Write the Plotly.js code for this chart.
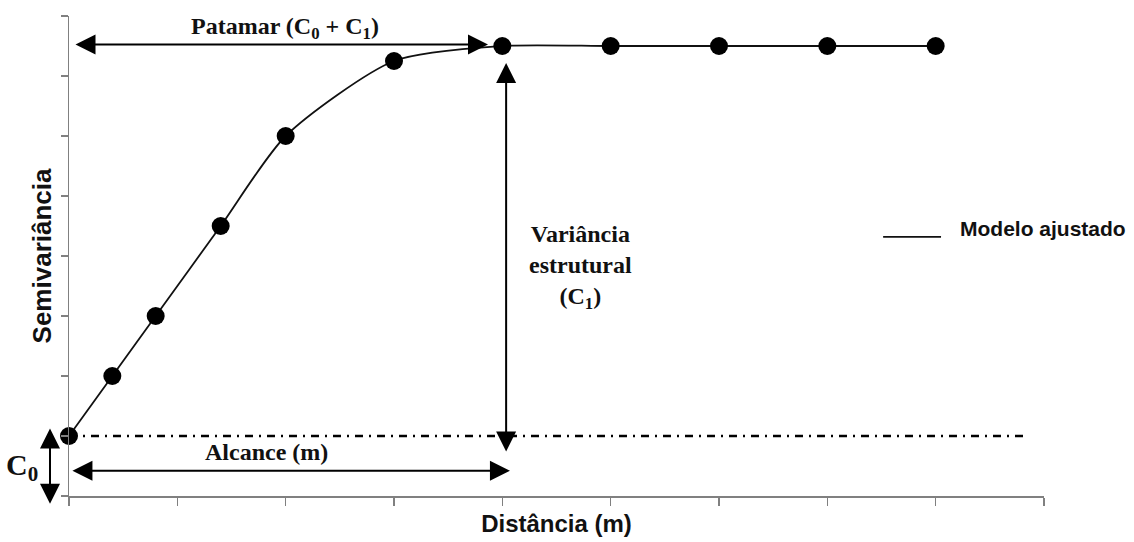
<!DOCTYPE html>
<html>
<head>
<meta charset="utf-8">
<script src="https://cdn.plot.ly/plotly-3.0.1.min.js"></script>
<style>html,body{margin:0;padding:0;background:#fff;}#chart{width:1134px;height:542px;}</style>
</head>
<body>
<div id="chart"></div>
<script>
// Distance lags (x) and experimental semivariance (y)
const distancia = [0, 0.4, 0.8, 1.4, 2, 3, 4, 5, 6, 7, 8];
const semivariancia = [1, 2, 3, 4.5, 6, 7.25, 7.5, 7.5, 7.5, 7.5, 7.5];
// Model parameters (nugget C0, sill C0+C1, range)
const pepita = [1];
const patamar = [7.5];
const alcance = [4];
const xTicks = [0, 1, 2, 3, 4, 5, 6, 7, 8, 9];
const yTicks = [0, 1, 2, 3, 4, 5, 6, 7, 8];

const SERIF = '"Liberation Serif", "Times New Roman", serif';
const SANS = '"Liberation Sans", Arial, sans-serif';

const model = {
  x: distancia, y: semivariancia, type: 'scatter', mode: 'lines',
  line: {color: '#111', width: 1.8, shape: 'spline', smoothing: 0.7},
  name: 'Modelo ajustado', showlegend: false, hoverinfo: 'skip'
};
const pts = {
  x: distancia, y: semivariancia, type: 'scatter', mode: 'markers',
  marker: {color: '#000', size: 18}, showlegend: false, cliponaxis: false
};

const aw = 2, as = 2;
function arrow(x, y, ax, ay, extra) {
  return Object.assign({
    x: x, y: y, ax: ax, ay: ay, xref: 'x', yref: 'y', axref: 'x', ayref: 'y',
    text: '', showarrow: true, arrowhead: 2, startarrowhead: 2,
    arrowside: 'end+start', arrowwidth: aw, arrowsize: as, startarrowsize: as,
    arrowcolor: '#000'
  }, extra || {});
}
function label(x, y, text, font, extra) {
  return Object.assign({x: x, y: y, xref: 'paper', yref: 'paper', showarrow: false,
    xanchor: 'center', yanchor: 'middle', text: text, font: font}, extra || {});
}

const layout = {
  width: 1134, height: 542,
  margin: {l: 69, r: 90, t: 16, b: 46},
  paper_bgcolor: '#fff', plot_bgcolor: '#fff',
  showlegend: false,
  xaxis: {
    range: [xTicks[0], xTicks[xTicks.length - 1]], tickvals: xTicks,
    showticklabels: false, ticks: 'outside', ticklen: 8, tickwidth: 1.5,
    tickcolor: '#808080', showline: true, linecolor: '#808080', linewidth: 1.5,
    showgrid: false, zeroline: false, fixedrange: true,
    title: {text: '<b>Distância (m)</b>', font: {family: SANS, size: 24, color: '#111'}, standoff: 10}
  },
  yaxis: {
    range: [yTicks[0], yTicks[yTicks.length - 1]], tickvals: yTicks,
    showticklabels: false, ticks: 'outside', ticklen: 7, tickwidth: 1.5,
    tickcolor: '#808080', showline: true, linecolor: '#808080', linewidth: 1.5,
    showgrid: false, zeroline: false, fixedrange: true,
    title: {text: '<b>Semivariância</b>', font: {family: SANS, size: 26, color: '#111'}, standoff: 1}
  },
  shapes: [
    {type: 'line', xref: 'x', yref: 'y', x0: 0, x1: 8.86, y0: pepita[0], y1: pepita[0],
     line: {color: '#000', width: 2.5, dash: '8px,6px,2px,6px'}},
    {type: 'line', xref: 'paper', yref: 'paper', x0: 0.835, x1: 0.8944, y0: 0.54, y1: 0.54,
     line: {color: '#111', width: 1.8}}
  ],
  annotations: [
    // Patamar arrow
    arrow(3.868, 7.525, 0.046, 7.525),
    // Variancia estrutural vertical arrow
    arrow(alcance[0] + 0.035, 7.217, alcance[0] + 0.035, 0.717),
    // Alcance arrow
    arrow(4.07, 0.422, 0.018, 0.422),
    // C0 arrow (outside plot)
    {x: -0.01949, y: -0.016, xref: 'paper', yref: 'paper', ax: 0, ay: -76.7,
     axref: 'pixel', ayref: 'pixel', text: '', showarrow: true, arrowhead: 2, startarrowhead: 2,
     arrowside: 'end+start', arrowwidth: aw, arrowsize: as, startarrowsize: as, arrowcolor: '#000'},
    // Texts
    label(0.222, 0.975, '<b>Patamar (C<sub>0</sub> + C<sub>1</sub>)</b>', {family: SERIF, size: 24, color: '#111'}),
    label(0.525, 0.478, '<b>Variância<br>estrutural<br>(C<sub>1</sub>)</b>', {family: SERIF, size: 24, color: '#111'}),
    label(0.2026, 0.0917, '<b>Alcance (m)</b>', {family: SERIF, size: 24, color: '#111'}),
    label(-0.0482, 0.0604, '<b>C<sub>0</sub></b>', {family: SERIF, size: 30, color: '#111'}),
    label(0.9118, 0.558, '<b>Modelo ajustado</b>', {family: SANS, size: 21, color: '#111'}, {xanchor: 'left'})
  ]
};

Plotly.newPlot('chart', [model, pts], layout, {displayModeBar: false, staticPlot: true});
</script>
</body>
</html>
